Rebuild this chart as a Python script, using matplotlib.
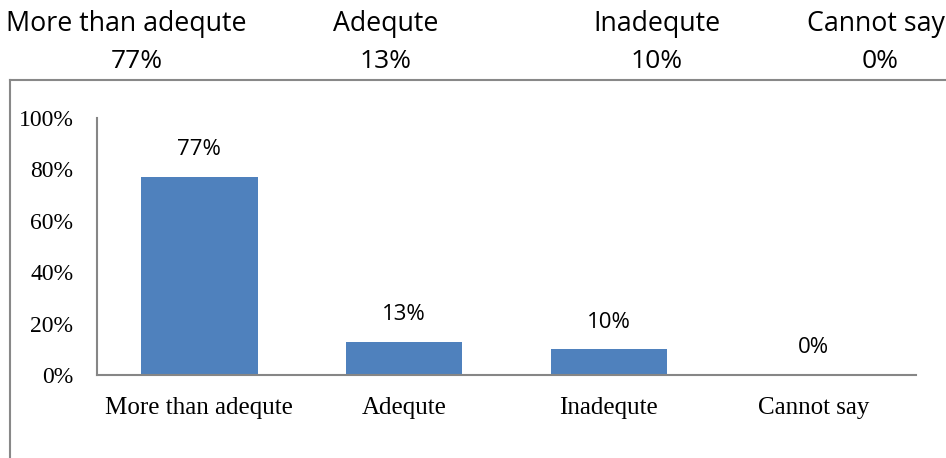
import matplotlib.pyplot as plt
from matplotlib.lines import Line2D

categories = ["More than adequte", "Adequte", "Inadequte", "Cannot say"]
values = [77, 13, 10, 0]
value_labels = ["77%", "13%", "10%", "0%"]
y_ticks = [0, 20, 40, 60, 80, 100]
y_tick_labels = ["0%", "20%", "40%", "60%", "80%", "100%"]

# header table above the chart (centre x of each cell, in pixels)
header_x_name = [126, 386, 657, 876]
header_x_value = [137, 386, 657, 880]

W, H = 946, 458
fig = plt.figure(figsize=(W / 100, H / 100), dpi=100)
ax = fig.add_axes([97 / W, 1 - 375 / H, (916 - 97) / W, (375 - 118) / H])

bar_color = "#4F81BD"
axis_color = "#868686"

x = range(len(categories))
bars = ax.bar(x, values, width=0.57, color=bar_color)

for rect, lab in zip(bars, value_labels):
    ax.annotate(lab, (rect.get_x() + rect.get_width() / 2, rect.get_height()),
                xytext=(0, 12), textcoords="offset points",
                ha="center", va="bottom", fontsize=16, family="Open Sans")

ax.set_xlim(-0.5, len(categories) - 0.5)
ax.set_ylim(0, 100)
ax.set_yticks(y_ticks)
ax.set_yticklabels(y_tick_labels, family="Liberation Serif", fontsize=17)
ax.set_xticks(list(x))
ax.set_xticklabels(categories, family="Liberation Serif", fontsize=18)
ax.tick_params(axis="y", length=0, pad=17)
ax.tick_params(axis="x", length=0, pad=16)

for side in ["top", "right"]:
    ax.spines[side].set_visible(False)
for side in ["left", "bottom"]:
    ax.spines[side].set_color(axis_color)
    ax.spines[side].set_linewidth(1.5)

# outer frame (top and left edges visible)
fig.add_artist(Line2D([10 / W, 1], [1 - 80 / H, 1 - 80 / H], color="#888888", lw=1.5))
fig.add_artist(Line2D([10 / W, 10 / W], [1 - 80 / H, 0], color="#888888", lw=1.5))

for name, val, xn, xv in zip(categories, value_labels, header_x_name, header_x_value):
    fig.text(xn / W, 1 - 24 / H, name, ha="center", va="center",
             fontsize=19.3, family="Open Sans")
    fig.text(xv / W, 1 - 62 / H, val, ha="center", va="center",
             fontsize=19, family="Open Sans")

fig.savefig("out.png", dpi=100)
